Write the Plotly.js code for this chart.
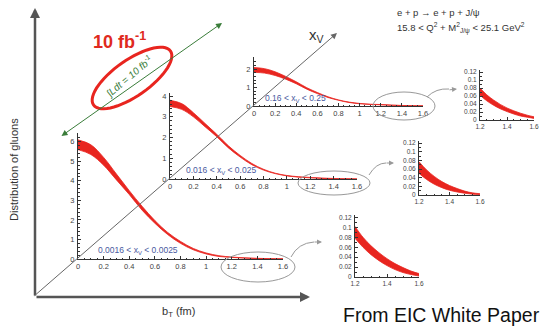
<!DOCTYPE html>
<html>
<head>
<meta charset="utf-8">
<script src="https://cdn.plot.ly/plotly-3.0.1.min.js"></script>
<style>body{margin:0;background:white}</style>
</head>
<body>
<div id="chart" style="width:545px;height:328px"></div>
<script>
// b_T grid of the three big panels (fm)
let bT = [0, 0.1, 0.2, 0.3, 0.4, 0.5, 0.6, 0.7, 0.8, 0.9, 1.0, 1.1, 1.2, 1.3, 1.4, 1.5, 1.6];

// 0.0016 < xV < 0.0025
let upper1 = [6.1, 5.85, 5.2, 4.35, 3.5, 2.7, 1.97, 1.36, 0.9, 0.54, 0.31, 0.17, 0.1, 0.058, 0.034, 0.018, 0.008];
let lower1 = [5.6, 5.35, 4.8, 4.05, 3.3, 2.5, 1.83, 1.25, 0.8, 0.47, 0.26, 0.13, 0.08, 0.045, 0.024, 0.012, 0.004];
// 0.016 < xV < 0.025
let upper2 = [3.8, 3.64, 3.2, 2.68, 2.16, 1.6, 1.14, 0.75, 0.47, 0.28, 0.17, 0.11, 0.075, 0.045, 0.025, 0.012, 0.005];
let lower2 = [3.5, 3.36, 3.0, 2.52, 2.04, 1.5, 1.06, 0.69, 0.43, 0.26, 0.15, 0.09, 0.055, 0.03, 0.015, 0.006, 0.002];
// 0.16 < xV < 0.25
let upper3 = [2.08, 2.02, 1.85, 1.6, 1.31, 0.99, 0.73, 0.5, 0.33, 0.21, 0.14, 0.095, 0.08, 0.05, 0.03, 0.017, 0.008];
let lower3 = [1.82, 1.78, 1.65, 1.45, 1.2, 0.91, 0.67, 0.46, 0.31, 0.19, 0.12, 0.085, 0.065, 0.04, 0.022, 0.012, 0.005];

// zoomed tails, 1.2 < b_T < 1.6
let bTail = [1.2, 1.25, 1.3, 1.35, 1.4, 1.45, 1.5, 1.55, 1.6];
let tailUpper1 = [0.102, 0.08, 0.063, 0.049, 0.037, 0.027, 0.019, 0.012, 0.007];
let tailLower1 = [0.078, 0.06, 0.045, 0.033, 0.023, 0.015, 0.009, 0.005, 0.002];
let tailUpper2 = [0.077, 0.058, 0.043, 0.031, 0.022, 0.015, 0.009, 0.005, 0.003];
let tailLower2 = [0.05, 0.036, 0.025, 0.017, 0.011, 0.007, 0.004, 0.002, 0.001];
let tailUpper3 = [0.08, 0.063, 0.05, 0.039, 0.03, 0.023, 0.017, 0.012, 0.008];
let tailLower3 = [0.062, 0.048, 0.037, 0.028, 0.021, 0.015, 0.01, 0.007, 0.004];

let binLabels = ["0.0016 < x<sub>V</sub> < 0.0025", "0.016 < x<sub>V</sub> < 0.025", "0.16 < x<sub>V</sub> < 0.25"];

const W = 545, H = 328;
const RED = '#e8251f';
const FONT = 'Liberation Sans, Arial, sans-serif';
function px(x) { return x / W; }
function py(y) { return 1 - y / H; }

function band(x, lo, hi, n) {
    let xa = n == 1 ? 'x' : 'x' + n, ya = n == 1 ? 'y' : 'y' + n;
    return [
        { x: x, y: lo, xaxis: xa, yaxis: ya, mode: 'lines', line: { color: RED, width: 0.8, shape: 'spline' }, hoverinfo: 'skip' },
        { x: x, y: hi, xaxis: xa, yaxis: ya, mode: 'lines', fill: 'tonexty', fillcolor: RED, line: { color: RED, width: 0.8, shape: 'spline' }, hoverinfo: 'skip' }
    ];
}

let datas = [].concat(
    band(bT, lower1, upper1, 1),
    band(bT, lower2, upper2, 2),
    band(bT, lower3, upper3, 3),
    band(bTail, tailLower1, tailUpper1, 4),
    band(bTail, tailLower2, tailUpper2, 5),
    band(bTail, tailLower3, tailUpper3, 6)
);

function xax(x0, x1, range, dtick, minor, anchor, size) {
    return {
        domain: [px(x0), px(x1)], range: range, anchor: anchor, dtick: dtick, tick0: 0,
        showline: true, linecolor: '#333', linewidth: 1, ticks: 'inside', ticklen: 3, tickcolor: '#333',
        minor: { ticks: 'inside', ticklen: 1.5, dtick: minor, tickcolor: '#333' },
        showgrid: false, zeroline: false, tickfont: { size: size, color: '#444', family: FONT }
    };
}
function yax(y0, y1, range, dtick, minor, anchor, size) {
    let a = xax(0, 1, range, dtick, minor, anchor, size);
    a.domain = [py(y0), py(y1)];
    a.ticklabelstandoff = 1;
    return a;
}

let layout = {
    width: W, height: H,
    margin: { l: 0, r: 0, t: 0, b: 0 },
    paper_bgcolor: 'white', plot_bgcolor: 'rgba(0,0,0,0)',
    showlegend: false, hovermode: false,
    font: { family: FONT },
    xaxis: xax(78, 283, [0, 1.6], 0.2, 0.05, 'y', 7.5),
    yaxis: yax(259, 133, [0, 6.45], 1, 0.2, 'x', 7.5),
    xaxis2: xax(170, 357, [0, 1.6], 0.2, 0.05, 'y2', 7.5),
    yaxis2: yax(179, 93, [0, 4.15], 1, 0.2, 'x2', 7.5),
    xaxis3: xax(254, 423, [0, 1.6], 0.2, 0.05, 'y3', 7.5),
    yaxis3: yax(106, 57, [0, 2.65], 1, 0.2, 'x3', 7.5),
    xaxis4: xax(355, 419, [1.2, 1.6], 0.2, 0.05, 'y4', 6.5),
    yaxis4: yax(277, 215, [0, 0.125], 0.02, 0.01, 'x4', 6.5),
    xaxis5: xax(419, 480, [1.2, 1.6], 0.2, 0.05, 'y5', 6.5),
    yaxis5: yax(195, 141, [0, 0.125], 0.02, 0.01, 'x5', 6.5),
    xaxis6: xax(480, 534, [1.2, 1.6], 0.2, 0.05, 'y6', 6.5),
    yaxis6: yax(120, 70, [0, 0.125], 0.02, 0.01, 'x6', 6.5)
};

// red ellipse round the luminosity label (rotated, so drawn as a path)
let ell = '';
for (let i = 0; i <= 60; i++) {
    let t = i / 60 * 2 * Math.PI, th = 35 * Math.PI / 180;
    let ex = 132 + 47 * Math.cos(t) * Math.cos(th) + 18 * Math.sin(t) * Math.sin(th);
    let ey = 78 - 47 * Math.cos(t) * Math.sin(th) + 18 * Math.sin(t) * Math.cos(th);
    ell += (i == 0 ? 'M' : 'L') + px(ex).toFixed(4) + ',' + py(ey).toFixed(4);
}
ell += 'Z';

function oval(cx, cy, rx, ry) {
    return { type: 'circle', xref: 'paper', yref: 'paper', x0: px(cx - rx), x1: px(cx + rx), y0: py(cy + ry), y1: py(cy - ry), line: { color: '#999', width: 1 } };
}
function curve(x0, y0, cx, cy, x1, y1) {
    return { type: 'path', xref: 'paper', yref: 'paper', path: 'M' + px(x0) + ',' + py(y0) + ' Q' + px(cx) + ',' + py(cy) + ' ' + px(x1) + ',' + py(y1), line: { color: '#999', width: 1 } };
}

layout.shapes = [
    { type: 'path', xref: 'paper', yref: 'paper', path: ell, line: { color: RED, width: 3 } },
    oval(258, 267, 37, 15), oval(334, 183, 36, 12), oval(404, 106, 31, 14),
    curve(291, 257, 298, 243, 314, 242),
    curve(369, 175, 376, 163, 386, 163),
    curve(427, 97, 436, 88, 449, 89)
];

function arrow(x, y, ax, ay, color, width, extra) {
    let a = { xref: 'paper', yref: 'paper', x: px(x), y: py(y), ax: ax, ay: ay, text: '', showarrow: true, arrowcolor: color, arrowwidth: width, arrowhead: 2, arrowsize: 1 };
    return Object.assign(a, extra || {});
}
function label(x, y, text, size, color, extra) {
    let a = { xref: 'paper', yref: 'paper', x: px(x), y: py(y), xanchor: 'center', yanchor: 'middle', text: text, showarrow: false, font: { size: size, color: color, family: FONT } };
    return Object.assign(a, extra || {});
}

layout.annotations = [
    arrow(35, 8, 0, 289, '#555', 2.5, { arrowhead: 2, arrowsize: 0.8 }),
    arrow(310, 297, -275, 0, '#555', 2.5, { arrowhead: 2, arrowsize: 0.8 }),
    arrow(337, 33, -304, 264, '#666', 1, { arrowsize: 1.2 }),
    arrow(222, 23, -162, 114, '#3a7d3a', 1, { arrowside: 'end+start', arrowsize: 1.2 }),
    arrow(322, 242, -9, 0, '#999', 1),
    arrow(394, 163, -9, 0, '#999', 1),
    arrow(457, 89, -9, 1, '#999', 1),
    label(119, 40, '<b>10 fb<sup>-1</sup></b>', 18, '#e02a20'),
    label(129, 76, '<i>∫Ldt = 10 fb<sup>-1</sup></i>', 10, '#3a7d3a', { textangle: -40 }),
    label(316, 36, 'x<sub>V</sub>', 15, '#333'),
    label(395, 12, 'e + p → e + p + J/ψ', 9.5, '#333', { xanchor: 'left' }),
    label(395, 28, '15.8 < Q<sup>2</sup> + M<sup>2</sup><sub>J/ψ</sub> < 25.1 GeV<sup>2</sup>', 9.5, '#333', { xanchor: 'left' }),
    label(14, 170, 'Distribution of gluons', 11, '#333', { textangle: -90 }),
    label(178, 312, 'b<sub>T</sub> (fm)', 11, '#333'),
    label(441, 315, 'From EIC White Paper', 19.5, '#111'),
    { xref: 'x', yref: 'y', x: 0.47, y: 0.46, text: binLabels[0], showarrow: false, font: { size: 8.5, color: '#4a5aa0', family: FONT } },
    { xref: 'x2', yref: 'y2', x: 0.44, y: 0.43, text: binLabels[1], showarrow: false, font: { size: 8.5, color: '#4a5aa0', family: FONT } },
    { xref: 'x3', yref: 'y3', x: 0.39, y: 0.43, text: binLabels[2], showarrow: false, font: { size: 8.5, color: '#4a5aa0', family: FONT } }
];

let config = { staticPlot: true, responsive: false };
Plotly.newPlot(document.getElementById('chart'), datas, layout, config);
</script>
</body>
</html>
